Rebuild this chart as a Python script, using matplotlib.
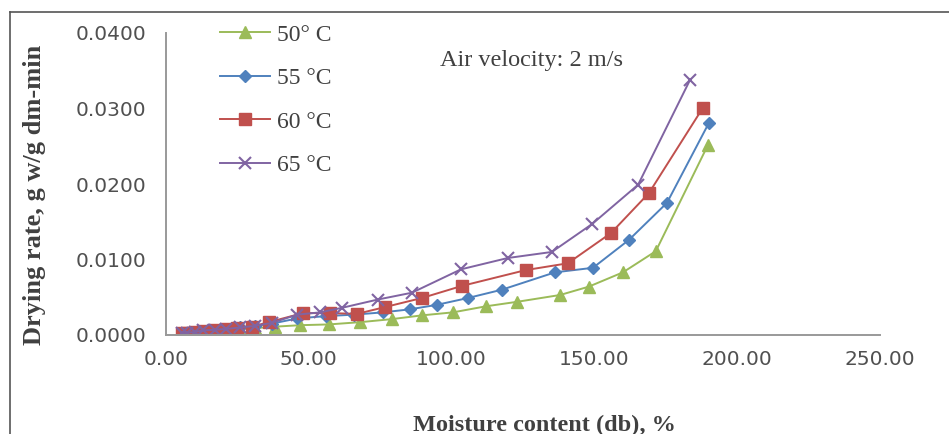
import numpy as np
import matplotlib
matplotlib.use("Agg")
from matplotlib import pyplot as plt
from matplotlib.lines import Line2D

# moisture content (db, %) and drying rate (g w/g dm-min) per temperature
mc_50 = [5.5, 7.5, 10, 13, 17, 21, 26, 31, 38, 47, 57, 68, 79, 89.6, 100.5, 112, 123, 138, 148, 160, 171.5, 189.8]
dr_50 = [0.0002, 0.0003, 0.0004, 0.0005, 0.0006, 0.0007, 0.0008, 0.0009, 0.0011, 0.0013, 0.0014, 0.0017,
         0.0021, 0.0026, 0.0030, 0.0038, 0.0044, 0.0053, 0.0064, 0.0083, 0.0111, 0.0252]

mc_55 = [5.5, 7.5, 10, 13, 17, 21, 26, 31, 37, 46, 56, 66, 76, 85.4, 94.9, 105.7, 117.6, 136.2, 149.5, 162.1, 175.4, 190.1]
dr_55 = [0.0002, 0.0003, 0.0004, 0.0005, 0.0007, 0.0008, 0.0010, 0.0012, 0.0015, 0.0022, 0.0025, 0.0027,
         0.0030, 0.0034, 0.0040, 0.0049, 0.0060, 0.0083, 0.0089, 0.0126, 0.0175, 0.0281]

mc_60 = [5.5, 7.5, 10, 13, 17, 21, 25, 30, 36, 48, 57.4, 66.9, 76.7, 89.6, 103.6, 126.0, 140.7, 155.8, 169.1, 188.0]
dr_60 = [0.0002, 0.0003, 0.0004, 0.0005, 0.0007, 0.0008, 0.0009, 0.0011, 0.0017, 0.0029, 0.0029, 0.0028,
         0.0037, 0.0049, 0.0065, 0.0086, 0.0095, 0.0135, 0.0188, 0.0301]

mc_65 = [5.5, 7.5, 10, 13, 17, 21, 26, 31, 37, 46, 54, 61.6, 74.2, 86.1, 103.3, 119.7, 135.1, 149.2, 165.3, 183.5]
dr_65 = [0.0002, 0.0003, 0.0004, 0.0006, 0.0007, 0.0008, 0.0010, 0.0012, 0.0016, 0.0027, 0.0030, 0.0036,
         0.0047, 0.0056, 0.0087, 0.0102, 0.0110, 0.0147, 0.0199, 0.0338]

labels = ["50\u00b0 C", "55 \u00b0C", "60 \u00b0C", "65 \u00b0C"]
xticks = [0, 50, 100, 150, 200, 250]
yticks = [0, 0.01, 0.02, 0.03, 0.04]

W, H = 949, 434
fig = plt.figure(figsize=(W / 100, H / 100), dpi=100)
ax = fig.add_axes([166 / W, 1 - 335 / H, (880 - 166) / W, (335 - 33) / H])

ax.plot(mc_50, dr_50, color="#9BBB59", lw=1.4, marker="^", ms=8, label=labels[0])
ax.plot(mc_55, dr_55, color="#4F81BD", lw=1.4, marker="D", ms=6.5, label=labels[1])
ax.plot(mc_60, dr_60, color="#C0504D", lw=1.4, marker="s", ms=8, label=labels[2])
ax.plot(mc_65, dr_65, color="#8064A2", lw=1.4, marker="x", ms=8, mew=1.5, label=labels[3])

ax.set_xlim(0, 250)
ax.set_ylim(0, 0.04)
ax.set_xticks(xticks)
ax.set_xticklabels(["%.2f" % v for v in xticks])
ax.set_yticks(yticks)
ax.set_yticklabels(["%.4f" % v for v in yticks])
ax.tick_params(length=0, labelsize=14.5, labelcolor="#505050")
ax.tick_params(axis="y", pad=14)
ax.tick_params(axis="x", pad=11)
for s in ["top", "right"]:
    ax.spines[s].set_visible(False)
for s in ["left", "bottom"]:
    ax.spines[s].set_color("#999999")
    ax.spines[s].set_linewidth(1.4)

leg = ax.legend(loc="upper left", bbox_to_anchor=(220 / W, 1 - 24 / H), bbox_transform=fig.transFigure,
                frameon=False, prop={"family": "Liberation Serif", "size": 17},
                handlelength=2.1, handletextpad=0.3, labelspacing=0.93, borderpad=0, borderaxespad=0)
for t in leg.get_texts():
    t.set_color("#404040")

ax.text(440 / W, 1 - 60 / H, "Air velocity: 2 m/s", transform=fig.transFigure, ha="left", va="center",
        family="Liberation Serif", fontsize=17.5, color="#404040")

fig.text(35 / W, 1 - 195 / H, "Drying rate, g w/g dm-min", rotation=90, ha="center", va="center",
         family="Liberation Serif", fontweight="bold", fontsize=19, color="#404040")
fig.text(544 / W, 1 - 425 / H, "Moisture content (db), %", ha="center", va="center",
         family="Liberation Serif", fontweight="bold", fontsize=17.5, color="#404040")

# outer frame of the picture
fig.add_artist(Line2D([10 / W, 1], [1 - 12 / H, 1 - 12 / H], transform=fig.transFigure, color="#555555", lw=1.2))
fig.add_artist(Line2D([10 / W, 10 / W], [0, 1 - 12 / H], transform=fig.transFigure, color="#555555", lw=1.2))

fig.savefig("out.png", dpi=100)
